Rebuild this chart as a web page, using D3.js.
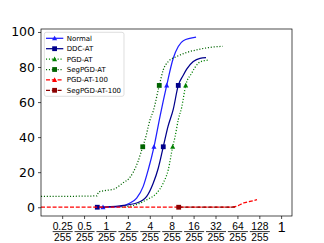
<!DOCTYPE html>
<html>
<head>
<meta charset="utf-8">
<script src="https://cdn.jsdelivr.net/npm/d3@7/dist/d3.min.js"></script>
<style>
  body { margin: 0; background: #fff; }
  svg { display: block; font-family: "DejaVu Sans", sans-serif; }
</style>
</head>
<body>
<svg id="chart" width="324" height="243"></svg>
<script>
// x values are epsilon * 255, y values are attack success (%)
const xTicks = [0.25, 0.5, 1, 2, 4, 8, 16, 32, 64, 128, 255]
const xTickNums = ['0.25', '0.5', '1', '2', '4', '8', '16', '32', '64', '128']
const yTicks = [0, 20, 40, 60, 80, 100]

const normalX = [0.91, 1.56, 2.14, 2.64, 3.25, 3.81, 4.57, 5.54, 6.83, 8.4, 9.85, 11.55, 17.3]
const normalY = [0, 0.4, 2.4, 5.2, 11.9, 21.4, 34.5, 52, 69.5, 85, 91.7, 95, 97]
const normalMarkX = [0.91, 4.57, 6.83]
const normalMarkY = [0, 34.5, 69.5]

const ddcX = [0.76, 1.56, 2.64, 3.63, 4.47, 5.24, 6.13, 7.11, 8.42, 9.85, 11.44, 12.86, 15.85, 19.6, 23.7]
const ddcY = [0, 0.8, 2.4, 6.2, 13.8, 22.4, 34.5, 46, 56, 69.5, 75, 78.8, 83.1, 85, 85.4]
const ddcMarkX = [0.76, 6.13, 9.85]
const ddcMarkY = [0, 34.5, 69.5]

const pgdX = [1.64, 2.64, 3.63, 4.98, 6.13, 7.18, 8.26, 8.88, 9.86, 10.98, 12.46, 15.06, 18.57, 22.2, 26.5]
const pgdY = [0, 1.6, 4.3, 8.1, 13.8, 21.4, 34.5, 40, 50, 57, 69.5, 76.5, 82.2, 83.6, 84]
const pgdMarkX = [8.26, 12.46]
const pgdMarkY = [34.5, 69.5]

const segX = [0.128, 0.233, 0.439, 0.752, 0.789, 1.0, 1.3, 1.7, 2.09, 2.37, 2.75, 3.2, 3.44, 4.03, 4.47, 5.4, 6.13, 7.18, 9.37, 12.86, 19.6, 26.9, 40.2]
const segY = [6.2, 6.2, 6.3, 6.5, 8.7, 9.6, 10.4, 13.8, 16.6, 20, 26, 34.5, 38.5, 49.9, 55, 69.5, 78.4, 83.1, 86, 88.3, 90.2, 91.2, 91.8]
const segMarkX = [3.2, 5.4]
const segMarkY = [34.5, 69.5]

const pgd100X = [0.128, 1, 10, 43.2, 55.7, 65.8, 77.1, 95.3, 119]
const pgd100Y = [0, 0, 0, 0, 0.2, 0.9, 2.4, 3.3, 4.3]
const pgd100MarkX = []
const pgd100MarkY = []

const seg100X = [9.98, 20, 60]
const seg100Y = [0, 0, 0]
const seg100MarkX = [9.98]
const seg100MarkY = [0]

const zip = (a, b) => a.map((v, i) => [v, b[i]])

const series = [
  { name: 'Normal', color: '#1f1fff', dash: null, marker: 'tri', pts: zip(normalX, normalY), marks: zip(normalMarkX, normalMarkY) },
  { name: 'DDC-AT', color: '#00008b', dash: null, marker: 'sq', pts: zip(ddcX, ddcY), marks: zip(ddcMarkX, ddcMarkY) },
  { name: 'PGD-AT', color: '#008000', dash: '1.1,1.8', marker: 'tri', pts: zip(pgdX, pgdY), marks: zip(pgdMarkX, pgdMarkY) },
  { name: 'SegPGD-AT', color: '#006400', dash: '1.1,1.8', marker: 'sq', pts: zip(segX, segY), marks: zip(segMarkX, segMarkY) },
  { name: 'PGD-AT-100', color: '#ff0000', dash: '4,1.8', marker: 'tri', pts: zip(pgd100X, pgd100Y), marks: zip(pgd100MarkX, pgd100MarkY) },
  { name: 'SegPGD-AT-100', color: '#8b0000', dash: '4,1.8', marker: 'sq', pts: zip(seg100X, seg100Y), marks: zip(seg100MarkX, seg100MarkY) }
]

const margin = { left: 41, right: 292, top: 29, bottom: 216 }
const x = d3.scaleLog().base(2).domain([0.128, 360]).range([margin.left, margin.right])
const y = d3.scaleLinear().domain([-5, 101.7]).range([margin.bottom, margin.top])

const svg = d3.select('#chart')

const clipId = 'plotclip'
svg.append('defs').append('clipPath').attr('id', clipId)
  .append('rect')
  .attr('x', margin.left).attr('y', margin.top)
  .attr('width', margin.right - margin.left).attr('height', margin.bottom - margin.top)

const line = d3.line()
  .x((d) => x(d[0]))
  .y((d) => y(d[1]))
  .curve(d3.curveMonotoneX)

const drawMarker = (g, type, cx, cy, color, s = 2.4) => {
  if (type === 'sq') {
    g.append('rect')
      .attr('x', cx - s).attr('y', cy - s)
      .attr('width', s * 2).attr('height', s * 2)
      .attr('fill', color)
  } else {
    g.append('path')
      .attr('d', `M ${cx} ${cy - s * 1.1} L ${cx + s * 1.05} ${cy + s * 0.85} L ${cx - s * 1.05} ${cy + s * 0.85} Z`)
      .attr('fill', color)
  }
}

const plot = svg.append('g').attr('clip-path', `url(#${clipId})`)
for (const s of series) {
  plot.append('path')
    .attr('d', line(s.pts))
    .attr('fill', 'none')
    .attr('stroke', s.color)
    .attr('stroke-width', 1.25)
    .attr('stroke-dasharray', s.dash)
  for (const m of s.marks) drawMarker(plot, s.marker, x(m[0]), y(m[1]), s.color)
}

// frame
svg.append('rect')
  .attr('x', margin.left).attr('y', margin.top)
  .attr('width', margin.right - margin.left).attr('height', margin.bottom - margin.top)
  .attr('fill', 'none').attr('stroke', '#000').attr('stroke-width', 0.7)

// y axis
const yAxis = svg.append('g')
  .attr('transform', `translate(${margin.left},0)`)
  .call(d3.axisLeft(y).tickValues(yTicks).tickSize(3).tickPadding(3))
yAxis.select('.domain').remove()
yAxis.selectAll('line').attr('stroke-width', 0.7)
yAxis.selectAll('text').attr('font-size', 12.5).attr('font-family', 'DejaVu Sans').attr('fill', '#000')

// x axis with fraction labels
const xAxis = svg.append('g')
  .attr('transform', `translate(0,${margin.bottom})`)
  .call(d3.axisBottom(x).tickValues(xTicks).tickSize(3).tickFormat(''))
xAxis.select('.domain').remove()
xAxis.selectAll('line').attr('stroke-width', 0.7)

xAxis.selectAll('.tick').each(function (d, i) {
  const g = d3.select(this)
  if (i >= xTickNums.length) {
    g.append('text')
      .attr('y', 16.3).attr('text-anchor', 'middle')
      .attr('font-size', 14).attr('fill', '#000')
      .text('1')
    return
  }
  g.append('text')
    .attr('y', 13.5).attr('text-anchor', 'middle')
    .attr('font-size', 10.3).attr('fill', '#000')
    .text(xTickNums[i])
  g.append('line')
    .attr('x1', -10).attr('x2', 10)
    .attr('y1', 15.6).attr('y2', 15.6)
    .attr('stroke', '#000').attr('stroke-width', 0.8)
  g.append('text')
    .attr('y', 24.6).attr('text-anchor', 'middle')
    .attr('font-size', 10.3).attr('fill', '#000')
    .text('255')
})

// legend
const legend = svg.append('g')
legend.append('rect')
  .attr('x', 44.3).attr('y', 32.3)
  .attr('width', 79.7).attr('height', 64)
  .attr('rx', 2)
  .attr('fill', '#fff').attr('fill-opacity', 0.8)
  .attr('stroke', '#d0d0d0').attr('stroke-width', 0.7)

series.forEach((s, i) => {
  const ly = 38.3 + i * 10.4
  legend.append('line')
    .attr('x1', 46).attr('x2', 63.3)
    .attr('y1', ly).attr('y2', ly)
    .attr('stroke', s.color).attr('stroke-width', 1.25)
    .attr('stroke-dasharray', s.dash)
  drawMarker(legend, s.marker, 54.6, ly, s.color)
  legend.append('text')
    .attr('x', 66.7).attr('y', ly + 2.5)
    .attr('font-size', 7).attr('fill', '#000')
    .text(s.name)
})
</script>
</body>
</html>
